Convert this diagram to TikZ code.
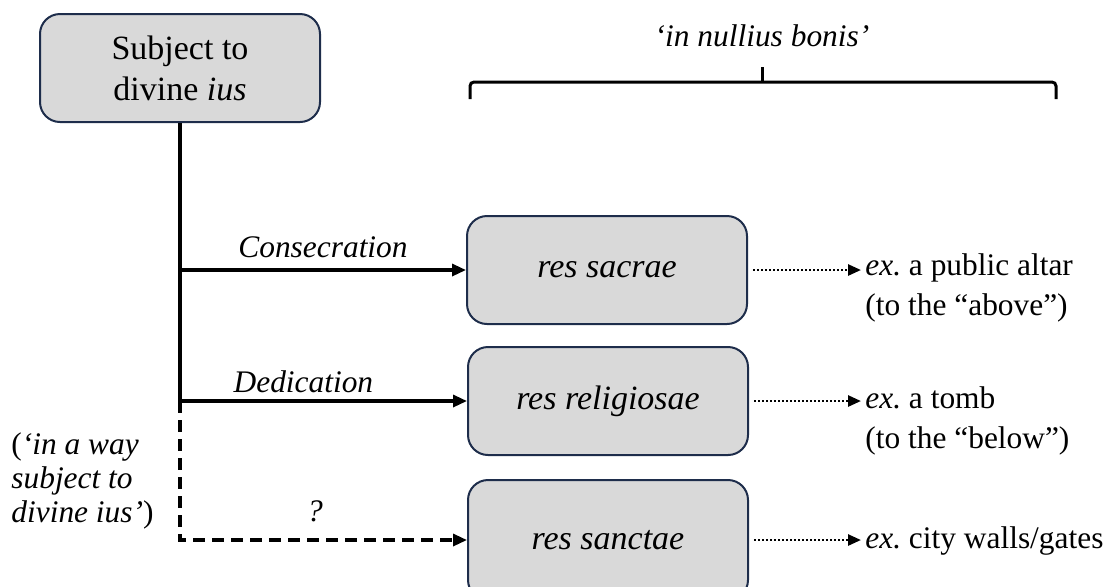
\documentclass[tikz,border=0pt]{standalone}
\usepackage{fontspec}
\setmainfont{Liberation Serif}
\usetikzlibrary{arrows.meta}
\definecolor{boxfill}{RGB}{217,217,217}
\definecolor{boxline}{RGB}{30,45,75}

\begin{document}
\begin{tikzpicture}[x=0.5pt, y=-0.5pt, line join=miter,
    resbox/.style={draw=boxline, fill=boxfill, line width=1pt, rounded corners=10pt,
      minimum width=140pt, minimum height=54pt, align=center, font=\fontsize{17}{20.5}\selectfont},
    note/.style={align=left, anchor=west, inner sep=2pt, font=\fontsize{15.7}{20}\selectfont},
    tag/.style={font=\fontsize{15.7}{20}\selectfont\itshape},
    link/.style={line width=1.6pt, -{Triangle[length=7pt,width=6pt]}},
    maybe/.style={line width=1.6pt, dash pattern=on 6pt off 3.5pt},
    hint/.style={line width=1.3pt, dash pattern=on 1.1pt off 0.9pt, shorten <=2.5pt, -{Triangle[length=6.5pt,width=5.5pt]}}]
  \useasboundingbox (0,0) rectangle (1117,586);
  \node[resbox] (divine) at (180,68) {Subject to\\divine \textit{ius}};
  \node[resbox] (sacrae) at (607,270) {\textit{res sacrae}};
  \node[resbox] (religiosae) at (608,401) {\textit{res religiosae}};
  \node[resbox, minimum height=60pt] (sanctae) at (608,540) {\textit{res sanctae}};
  \node[note] (altar) at (861,288) {\textit{ex.}\ a public altar\\(to the “above”)};
  \node[note] (tomb) at (861,421) {\textit{ex.}\ a tomb\\(to the “below”)};
  \node[note] (walls) at (861,541) {\textit{ex.}\ city walls/gates};
  \node[note, inner sep=0pt, font=\fontsize{15.7}{17}\selectfont] (aside) at (11,481)
    {(\textit{‘in a way}\\\textit{subject to}\\\textit{divine ius’})};
  \coordinate (tip) at (762,67);
  \node[tag] (nullius) at (762,36) {‘in nullius bonis’};
  \draw[line width=1.5pt, rounded corners=2pt] (470,99) |- (762,82) -| (1056,99);
  \draw[line width=1.5pt] (762,82) -- (tip);
  \draw[line width=1.6pt] (divine.south) -- (divine.south |- religiosae.west);
  \draw[link] (divine.south |- sacrae.west) -- node[tag, above=2pt] (consecr) {Consecration} (sacrae.west);
  \draw[link] (divine.south |- religiosae.west) -- node[tag, above, pos=0.43] (dedic) {Dedication} (religiosae.west);
  \draw[maybe, -{Triangle[length=7pt,width=6pt]}] (divine.south |- religiosae.west) -- (divine.south |- sanctae.west)
    -- node[tag, above=5pt, pos=0.47] (query) {?} (sanctae.west);
  \draw[hint] (sacrae.east) -- (sacrae.east -| altar.west);
  \draw[hint] (religiosae.east) -- (religiosae.east -| tomb.west);
  \draw[hint] (sanctae.east) -- (sanctae.east -| walls.west);
\end{tikzpicture}
\end{document}
